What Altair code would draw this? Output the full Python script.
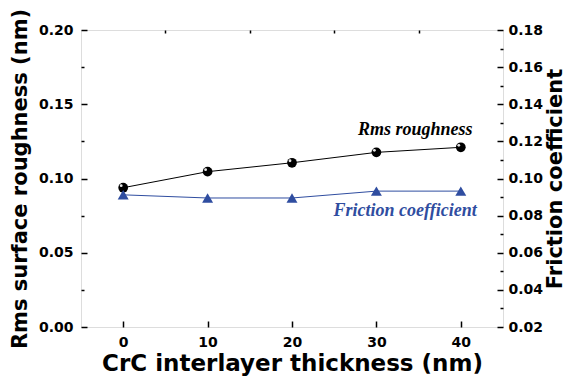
import altair as alt
import pandas as pd

# ---- data ----
thickness = [0, 10, 20, 30, 40]
rms_roughness = [0.0938, 0.1046, 0.1106, 0.1176, 0.1210]
friction_coef = [0.0912, 0.0895, 0.0895, 0.0932, 0.0932]

x_major = [0, 10, 20, 30, 40]
x_minor = [5, 15, 25, 35]
left_major = [0.00, 0.05, 0.10, 0.15, 0.20]
left_minor = [0.025, 0.075, 0.125, 0.175]
right_major = [0.02, 0.04, 0.06, 0.08, 0.10, 0.12, 0.14, 0.16, 0.18]
right_minor = [0.03, 0.05, 0.07, 0.09, 0.11, 0.13, 0.15, 0.17]

df = pd.DataFrame({"thk": thickness, "rms": rms_roughness, "fric": friction_coef})

BLUE = "#2f4da0"
SANS = "DejaVu Sans"
SERIF = "Liberation Serif"

xscale = alt.Scale(domain=[-5, 45], nice=False, zero=False)
rscale = alt.Scale(domain=[0, 0.2], nice=False, zero=False)
fscale = alt.Scale(domain=[0.02, 0.18], nice=False, zero=False)

lab = dict(labelFont=SANS, labelFontWeight="bold", labelFontSize=14, labelColor="black")


def ttl(size):
    return dict(titleFont=SANS, titleFontWeight="bold", titleFontSize=size, titleColor="black")


x_main_axis = alt.Axis(values=x_major, format="d", domain=False, grid=False,
                       tickSize=6, offset=-6, tickWidth=1.5, tickColor="black",
                       labelPadding=8, titlePadding=3,
                       title="CrC interlayer thickness (nm)", **lab, **ttl(23))
x_minor_axis = alt.Axis(values=x_minor, labels=False, domain=False, grid=False,
                        tickSize=3, offset=-3, tickWidth=1.5, tickColor="black", title=None)
l_main_axis = alt.Axis(values=left_major, format=".2f", domain=False, grid=False, orient="left",
                       tickSize=6, offset=-6, tickWidth=1.5, tickColor="black",
                       labelPadding=8, titlePadding=8,
                       title="Rms surface roughness (nm)", **lab, **ttl(21))
l_minor_axis = alt.Axis(values=left_minor, labels=False, domain=False, grid=False, orient="left",
                        tickSize=3, offset=-3, tickWidth=1.5, tickColor="black", title=None)
r_main_axis = alt.Axis(values=right_major, format=".2f", domain=False, grid=False, orient="right",
                       tickSize=6, offset=-6, tickWidth=1.5, tickColor="black",
                       labelPadding=5, titlePadding=2, titleAngle=270, titleBaseline="top",
                       title="Friction coefficient", **lab, **ttl(21))
r_minor_axis = alt.Axis(values=right_minor, labels=False, domain=False, grid=False, orient="right",
                        tickSize=3, offset=-3, tickWidth=1.5, tickColor="black", title=None)

base = alt.Chart(df)

rms_line = base.mark_line(color="black", strokeWidth=1).encode(
    x=alt.X("thk:Q", scale=xscale, axis=x_main_axis),
    y=alt.Y("rms:Q", scale=rscale, axis=l_main_axis),
)
rms_pts = base.mark_point(filled=True, color="black", size=95, opacity=1).encode(
    x=alt.X("thk:Q", scale=xscale, axis=x_minor_axis),
    y=alt.Y("rms:Q", scale=rscale, axis=l_minor_axis),
)
rms_hl = base.mark_point(filled=True, color="#e8e8e8", size=8, opacity=1, xOffset=-2, yOffset=-2).encode(
    x=alt.X("thk:Q", scale=xscale, axis=None),
    y=alt.Y("rms:Q", scale=rscale, axis=None),
)
rms_label = alt.Chart(pd.DataFrame({"tx": [34.6], "ty": [0.1327], "t": ["Rms roughness"]})).mark_text(
    font=SERIF, fontWeight="bold", fontStyle="italic", fontSize=18, color="black"
).encode(
    x=alt.X("tx:Q", scale=xscale, axis=None),
    y=alt.Y("ty:Q", scale=rscale, axis=None),
    text="t:N",
)

fric_line = base.mark_line(color=BLUE, strokeWidth=1).encode(
    x=alt.X("thk:Q", scale=xscale, axis=None),
    y=alt.Y("fric:Q", scale=fscale, axis=r_main_axis),
)
fric_pts = base.mark_point(filled=True, shape="triangle-up", color=BLUE, size=120, opacity=1).encode(
    x=alt.X("thk:Q", scale=xscale, axis=None),
    y=alt.Y("fric:Q", scale=fscale, axis=r_minor_axis),
)
fric_label = alt.Chart(pd.DataFrame({"tx": [33.4], "ty": [0.0825], "t": ["Friction coefficient"]})).mark_text(
    font=SERIF, fontWeight="bold", fontStyle="italic", fontSize=18, color=BLUE
).encode(
    x=alt.X("tx:Q", scale=xscale, axis=None),
    y=alt.Y("ty:Q", scale=fscale, axis=None),
    text="t:N",
)

R = alt.layer(rms_line, rms_pts, rms_hl, rms_label).resolve_axis(x="independent", y="independent")
F = alt.layer(fric_line, fric_pts, fric_label).resolve_axis(x="independent", y="independent")

chart = alt.layer(R, F).resolve_scale(y="independent").resolve_axis(
    x="independent", y="independent"
).properties(
    width=422, height=297,
    autosize=alt.AutoSizeParams(type="none"),
    padding={"left": 73, "top": 22, "right": 65, "bottom": 50},
).configure_view(stroke="black", strokeWidth=2).configure(background="white")

chart.save("out.html", embed_options={"renderer": "svg", "actions": False})
